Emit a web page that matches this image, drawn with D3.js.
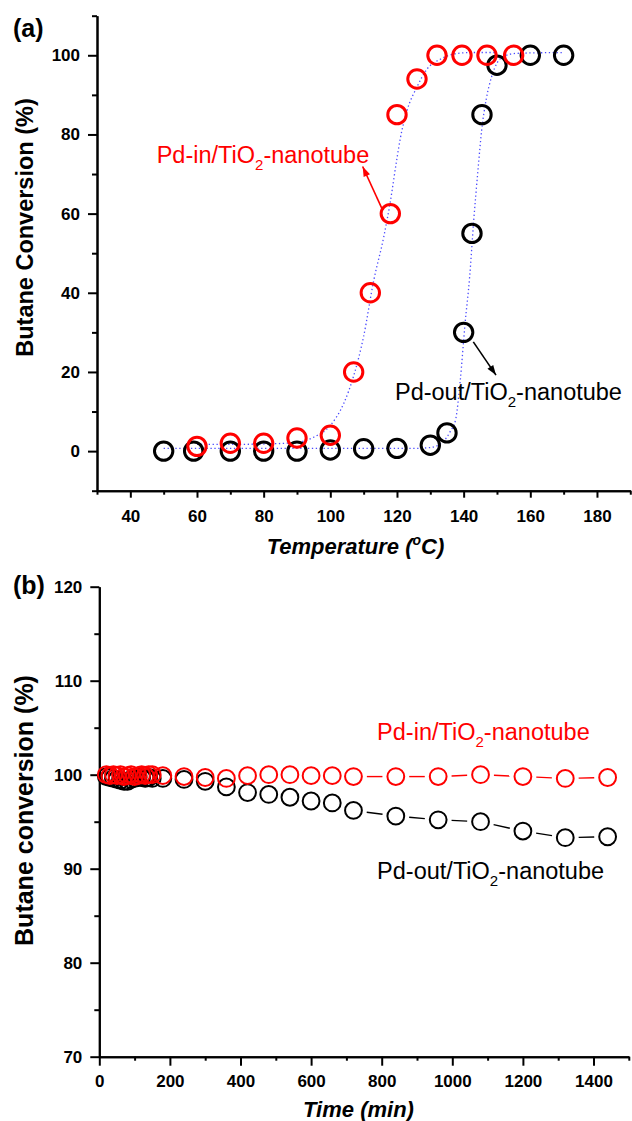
<!DOCTYPE html>
<html><head><meta charset="utf-8">
<script src="https://cdn.jsdelivr.net/npm/d3@7"></script>
<style>body{margin:0;background:#fff}svg{display:block}text{font-family:"Liberation Sans",Arial,sans-serif}</style>
</head><body>
<svg id="c" width="632" height="1121"></svg>
<script>
// ---------- Panel (a) data ----------
const tempOut = [50,59,70,80,90,100,110,120,130,135,140,142.5,145.5,150,160,170];
const convOut = [0,0,0,0,0,0.3,0.6,0.7,1.5,4.6,30,55,85,97.5,100,100];
const tempIn  = [60,70,80,90,100,107,112,118,120,126,132,139.5,147,155];
const convIn  = [1.2,2,2,3.3,4,20,40,60,85,94,100,100,100,100];
// fitted curves
const fitInX  = [60,70,80,90,95,100,104,107,110,113,116,118,120,121,123,126,129,133,137,142,150];
const fitInY  = [1.7,1.7,1.8,2.2,3.5,6.5,12,19,29,43,54,63,74,79,86,92,96.5,99,100.3,100.7,100.7];
const fitOutX = [50,70,90,110,125,130,134,136,137.6,139,140.4,141.8,143,144.3,145.4,146.8,148.4,150,152,156,170];
const fitOutY = [0.7,0.7,0.7,0.7,0.7,0.9,2.5,5,8,18,32,44,58,71,81,89,94.6,98,99.7,100.5,100.7];
const xTicksA = [40,60,80,100,120,140,160,180];
const xMinorA = [30,50,70,90,110,130,150,170,190];
const yTicksA = [0,20,40,60,80,100];
const yMinorA = [-10,10,30,50,70,90,110];

// ---------- Panel (b) data ----------
const timeB   = [20,30,40,50,60,70,80,90,100,110,120,130,140,150,180,240,300,360,420,480,540,600,660,720,840,960,1080,1200,1320,1440];
const inB     = [100,99.9,100,99.9,100,99.8,99.9,100,99.8,99.9,100,99.9,100,100,99.9,99.8,99.7,99.6,99.9,100,100,99.9,99.9,99.8,99.8,99.8,100,99.8,99.6,99.7];
const outB    = [99.8,99.7,99.6,99.5,99.4,99.3,99.3,99.5,99.6,99.7,99.7,99.6,99.7,99.6,99.6,99.5,99.3,98.7,98.1,97.9,97.6,97.2,97.0,96.2,95.6,95.2,95.0,94.0,93.3,93.4];
const xTicksB = [0,200,400,600,800,1000,1200,1400];
const xMinorB = [100,300,500,700,900,1100,1300,1500];
const yTicksB = [70,80,90,100,110,120];
const yMinorB = [75,85,95,105,115];

const svg = d3.select("#c");
const RED = "#ff0000", BLUE = "#4a4aff";
const fmt = d3.format("d");

function axes(g, x, y, major, minor, ymaj, ymin, xTick, xLabOff) {
  const ax = g.append("g").attr("transform", `translate(0,${y.range()[0]})`)
    .call(d3.axisBottom(x).tickValues(major).tickFormat(fmt).tickSize(xTick).tickSizeOuter(0).tickPadding(8));
  ax.selectAll("text").attr("dy", null).attr("y", xLabOff);
  g.append("g").attr("transform", `translate(0,${y.range()[0]})`)
    .call(d3.axisBottom(x).tickValues(minor).tickSize(4).tickSizeOuter(0).tickFormat(""));
  g.append("g").attr("transform", `translate(${x.range()[0]},0)`)
    .call(d3.axisLeft(y).tickValues(ymaj).tickFormat(fmt).tickSize(9).tickSizeOuter(0).tickPadding(8));
  g.append("g").attr("transform", `translate(${x.range()[0]},0)`)
    .call(d3.axisLeft(y).tickValues(ymin).tickSize(5).tickSizeOuter(0).tickFormat(""));
  g.selectAll(".domain, .tick line").attr("stroke", "#000").attr("stroke-width", 2);
  g.selectAll(".tick text").attr("font-size", 17).attr("font-weight", "bold")
    .attr("font-family", "'Liberation Sans', Arial, sans-serif").attr("fill", "#000");
}

function subLabel(g, px, py, pre, color, size) {
  const t = g.append("text").attr("x", px).attr("y", py).attr("fill", color).attr("font-size", size);
  t.append("tspan").text(pre + "/TiO");
  t.append("tspan").attr("font-size", size * 0.64).attr("dy", 7).text("2");
  t.append("tspan").attr("dy", -7).text("-nanotube");
}

function arrow(g, x1, y1, x2, y2, color) {
  g.append("line").attr("x1", x1).attr("y1", y1).attr("x2", x2).attr("y2", y2)
    .attr("stroke", color).attr("stroke-width", 1.6);
  const a = Math.atan2(y2 - y1, x2 - x1), L = 10, W = 3.5;
  const bx = x2 - L * Math.cos(a), by = y2 - L * Math.sin(a);
  g.append("path").attr("fill", color)
    .attr("d", `M${x2},${y2}L${bx + W * Math.sin(a)},${by - W * Math.cos(a)}L${bx - W * Math.sin(a)},${by + W * Math.cos(a)}Z`);
}

// ================= Panel (a) =================
const gA = svg.append("g");
const xA = d3.scaleLinear().domain([30, 190]).range([97, 630.3]);
const yA = d3.scaleLinear().domain([-10, 110]).range([490.7, 15.7]);
axes(gA, xA, yA, xTicksA, xMinorA, yTicksA, yMinorA, 7, 31);

const fitLine = (xs, ys) => d3.line().curve(d3.curveMonotoneX).x((d, i) => xA(xs[i])).y((d, i) => yA(ys[i]))(xs);
gA.append("path").attr("d", fitLine(fitOutX, fitOutY)).attr("fill", "none").attr("stroke", BLUE)
  .attr("stroke-width", 1.3).attr("stroke-dasharray", "1.3,2.6");
gA.append("path").attr("d", fitLine(fitInX, fitInY)).attr("fill", "none").attr("stroke", BLUE)
  .attr("stroke-width", 1.3).attr("stroke-dasharray", "1.3,2.6");

gA.selectAll("circle.o").data(tempOut).join("circle").attr("class", "o")
  .attr("cx", d => xA(d)).attr("cy", (d, i) => yA(convOut[i])).attr("r", 9.2)
  .attr("fill", "none").attr("stroke", "#000").attr("stroke-width", 3);
gA.selectAll("circle.i").data(tempIn).join("circle").attr("class", "i")
  .attr("cx", d => xA(d)).attr("cy", (d, i) => yA(convIn[i])).attr("r", 9.2)
  .attr("fill", "none").attr("stroke", RED).attr("stroke-width", 3);

subLabel(gA, xA(47.9), yA(72.7), "Pd-in", RED, 23.5);
arrow(gA, xA(115.7), yA(60.9), xA(109.7), yA(71.9), RED);
subLabel(gA, xA(119.4), yA(12.9), "Pd-out", "#000", 23.5);
arrow(gA, xA(142.9), yA(27.6), xA(149.7), yA(19.2), "#000");

gA.append("text").attr("x", 13).attr("y", 37).attr("font-size", 25).attr("font-weight", "bold").text("(a)");
gA.append("text").attr("transform", "translate(33,227.5) rotate(-90)").attr("text-anchor", "middle")
  .attr("font-size", 23.5).attr("font-weight", "bold").text("Butane Conversion (%)");
const tA = gA.append("text").attr("x", 355.5).attr("y", 554).attr("text-anchor", "middle")
  .attr("font-size", 22).attr("font-weight", "bold").attr("font-style", "italic");
tA.append("tspan").text("Temperature (");
tA.append("tspan").attr("font-size", 14).attr("dy", -9).text("o");
tA.append("tspan").attr("dy", 9).text("C)");

// ================= Panel (b) =================
const gB = svg.append("g");
const xB = d3.scaleLinear().domain([0, 1500]).range([99.3, 628.8]);
const yB = d3.scaleLinear().domain([70, 120]).range([1056.7, 586.7]);
axes(gB, xB, yB, xTicksB, xMinorB, yTicksB, yMinorB, 9, 30);

const RB = 8.4;
function gapSegs(xs, ys, trim) {
  const segs = [];
  for (let i = 0; i < xs.length - 1; i++) {
    const x1 = xB(xs[i]), y1 = yB(ys[i]), x2 = xB(xs[i + 1]), y2 = yB(ys[i + 1]);
    const d = Math.hypot(x2 - x1, y2 - y1);
    if (d > 2 * trim) {
      const ux = (x2 - x1) / d, uy = (y2 - y1) / d;
      segs.push([x1 + ux * trim, y1 + uy * trim, x2 - ux * trim, y2 - uy * trim]);
    }
  }
  return segs;
}
function seriesB(vals, color) {
  gB.append("g").selectAll("line").data(gapSegs(timeB, vals, RB + 5)).join("line")
    .attr("x1", d => d[0]).attr("y1", d => d[1]).attr("x2", d => d[2]).attr("y2", d => d[3])
    .attr("stroke", color).attr("stroke-width", 1.4);
  gB.append("g").selectAll("circle").data(timeB).join("circle")
    .attr("cx", d => xB(d)).attr("cy", (d, i) => yB(vals[i])).attr("r", RB)
    .attr("fill", "none").attr("stroke", color).attr("stroke-width", 2);
}
seriesB(outB, "#000");
seriesB(inB, RED);

subLabel(gB, xB(787), yB(103.65), "Pd-in", RED, 23.5);
subLabel(gB, xB(787), yB(88.86), "Pd-out", "#000", 23.5);

gB.append("text").attr("x", 13).attr("y", 594).attr("font-size", 25).attr("font-weight", "bold").text("(b)");
gB.append("text").attr("transform", "translate(33,810.5) rotate(-90)").attr("text-anchor", "middle")
  .attr("font-size", 25).attr("font-weight", "bold").text("Butane conversion (%)");
gB.append("text").attr("x", 358.5).attr("y", 1117).attr("text-anchor", "middle")
  .attr("font-size", 22).attr("font-weight", "bold").attr("font-style", "italic").text("Time (min)");
</script>
</body></html>
